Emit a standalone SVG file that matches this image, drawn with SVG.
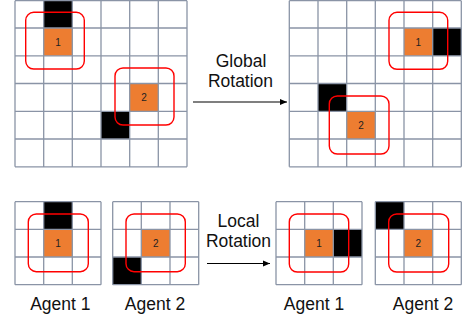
<svg xmlns="http://www.w3.org/2000/svg" width="462" height="322" viewBox="0 0 462 322">
<style>
.grid{fill:none;stroke:#8a94a6;stroke-width:1.3}
.or{fill:#ed7d31;stroke:none}
.bk{fill:#000;stroke:none}
.fov{fill:none;stroke:#ff0000;stroke-width:1.4}
.num{font-family:"Liberation Sans",Arial,sans-serif;font-size:10px;fill:#222;text-anchor:middle}
.lbl{font-family:"Liberation Sans",Arial,sans-serif;font-size:17.5px;fill:#111;text-anchor:middle}
.arr{stroke:#000;stroke-width:1.2;fill:none}
</style>
<defs>
<marker id="ah" markerWidth="8" markerHeight="8" refX="7" refY="4" orient="auto" markerUnits="userSpaceOnUse">
<path d="M0,1 L7,4 L0,7 Z" fill="#000"/>
</marker>
</defs>
<rect width="462" height="322" fill="#fff"/>

<g id="global-before">
<rect class="bk" x="43.7" y="0.7" width="28.7" height="27.3"/>
<rect class="or" x="43.7" y="28" width="28.7" height="27.8"/>
<rect class="or" x="129.7" y="83.5" width="28.7" height="27.8"/>
<rect class="bk" x="101" y="111.3" width="28.7" height="27.7"/>
<path class="grid" d="M15,0.7V166.8M43.7,0.7V166.8M72.3,0.7V166.8M101,0.7V166.8M129.7,0.7V166.8M158.3,0.7V166.8M187,0.7V166.8M15,0.7H187M15,28H187M15,55.8H187M15,83.5H187M15,111.3H187M15,139H187M15,166.8H187"/>
<text class="num" x="58" y="45.5">1</text>
<text class="num" x="144" y="101">2</text>
<rect class="fov" x="25.7" y="12.3" width="58.6" height="56.7" rx="8"/>
<rect class="fov" x="115" y="68" width="59" height="57" rx="8"/>
</g>

<g id="global-after">
<rect class="or" x="404" y="28" width="28.7" height="27.8"/>
<rect class="bk" x="432.7" y="28" width="28.7" height="27.8"/>
<rect class="bk" x="318" y="83.5" width="28.7" height="27.8"/>
<rect class="or" x="346.7" y="111.3" width="28.7" height="27.7"/>
<path class="grid" d="M289.3,0.7V166.8M318,0.7V166.8M346.7,0.7V166.8M375.3,0.7V166.8M404,0.7V166.8M432.7,0.7V166.8M461.3,0.7V166.8M289.3,0.7H461.3M289.3,28H461.3M289.3,55.8H461.3M289.3,83.5H461.3M289.3,111.3H461.3M289.3,139H461.3M289.3,166.8H461.3"/>
<text class="num" x="418.3" y="45.5">1</text>
<text class="num" x="361" y="128.8">2</text>
<rect class="fov" x="389" y="12.3" width="58.7" height="57" rx="8"/>
<rect class="fov" x="329.3" y="96" width="59.7" height="58" rx="8"/>
</g>

<g id="local-before-agent1">
<rect class="bk" x="43.7" y="201.7" width="28.7" height="27.6"/>
<rect class="or" x="43.7" y="229.3" width="28.7" height="27.7"/>
<path class="grid" d="M15,201.7V284.7M43.7,201.7V284.7M72.3,201.7V284.7M101,201.7V284.7M15,201.7H101M15,229.3H101M15,257H101M15,284.7H101"/>
<text class="num" x="58" y="246.8">1</text>
<rect class="fov" x="28.3" y="214" width="60" height="57.7" rx="8"/>
<text class="lbl" x="60.3" y="310">Agent 1</text>
</g>

<g id="local-before-agent2">
<rect class="or" x="141.3" y="229.3" width="28.7" height="27.7"/>
<rect class="bk" x="112.7" y="257" width="28.6" height="27.7"/>
<path class="grid" d="M112.7,201.7V284.7M141.3,201.7V284.7M170,201.7V284.7M198.7,201.7V284.7M112.7,201.7H198.7M112.7,229.3H198.7M112.7,257H198.7M112.7,284.7H198.7"/>
<text class="num" x="155.7" y="246.8">2</text>
<rect class="fov" x="126" y="214" width="59.3" height="57.7" rx="8"/>
<text class="lbl" x="155" y="310">Agent 2</text>
</g>

<g id="local-after-agent1">
<rect class="or" x="304.7" y="229.3" width="28.6" height="27.7"/>
<rect class="bk" x="333.3" y="229.3" width="28.7" height="27.7"/>
<path class="grid" d="M276,201.7V284.7M304.7,201.7V284.7M333.3,201.7V284.7M362,201.7V284.7M276,201.7H362M276,229.3H362M276,257H362M276,284.7H362"/>
<text class="num" x="319" y="246.8">1</text>
<rect class="fov" x="289.3" y="214" width="59.4" height="58" rx="8"/>
<text class="lbl" x="314" y="310">Agent 1</text>
</g>

<g id="local-after-agent2">
<rect class="bk" x="375.3" y="201.7" width="28.7" height="27.6"/>
<rect class="or" x="404" y="229.3" width="28.7" height="27.7"/>
<path class="grid" d="M375.3,201.7V284.7M404,201.7V284.7M432.7,201.7V284.7M461.3,201.7V284.7M375.3,201.7H461.3M375.3,229.3H461.3M375.3,257H461.3M375.3,284.7H461.3"/>
<text class="num" x="418.3" y="246.8">2</text>
<rect class="fov" x="388.7" y="214" width="60" height="58" rx="8"/>
<text class="lbl" x="423" y="310">Agent 2</text>
</g>

<g id="connectors">
<line class="arr" x1="193" y1="102" x2="287" y2="102" marker-end="url(#ah)"/>
<text class="lbl" x="241" y="67">Global</text>
<text class="lbl" x="240.5" y="87">Rotation</text>
<line class="arr" x1="207" y1="263.5" x2="270" y2="263.5" marker-end="url(#ah)"/>
<text class="lbl" x="238.5" y="227">Local</text>
<text class="lbl" x="238.5" y="247">Rotation</text>
</g>
</svg>
